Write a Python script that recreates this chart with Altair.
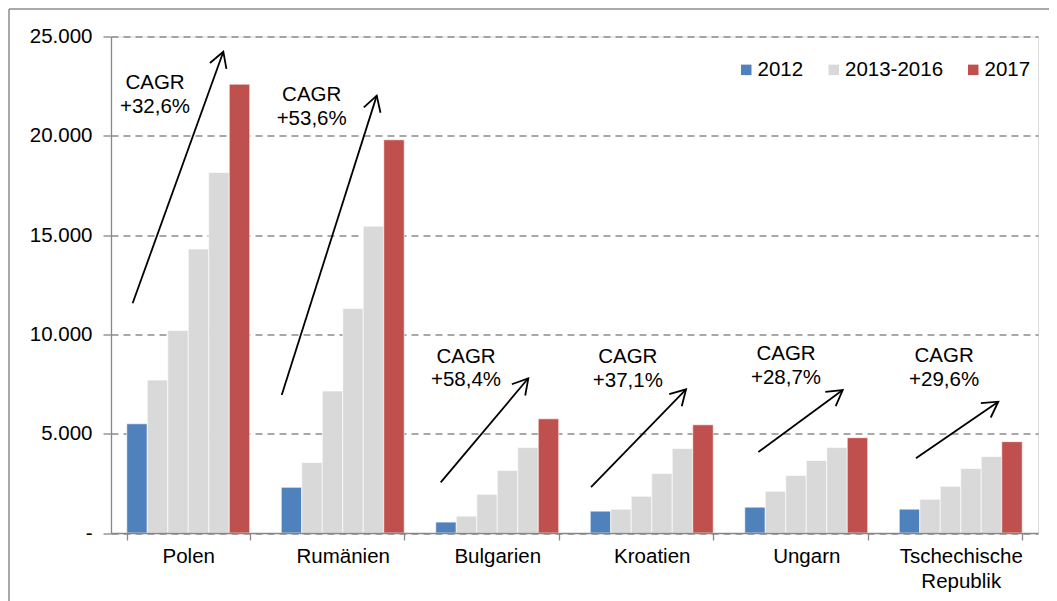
import math
import altair as alt
import pandas as pd

# ---------------- data ----------------
countries = ["Polen", "Rumänien", "Bulgarien", "Kroatien", "Ungarn", "Tschechische Republik"]
years = ["2012", "2013", "2014", "2015", "2016", "2017"]
polen = [5500, 7700, 10200, 14300, 18150, 22600]
rumaenien = [2300, 3550, 7150, 11300, 15450, 19800]
bulgarien = [550, 850, 1950, 3150, 4300, 5750]
kroatien = [1100, 1200, 1850, 3000, 4250, 5450]
ungarn = [1300, 2100, 2900, 3650, 4300, 4800]
tschechien = [1200, 1700, 2350, 3250, 3850, 4600]
series = [polen, rumaenien, bulgarien, kroatien, ungarn, tschechien]

groups = ["2012", "2013-2016", "2017"]
colors = ["#4F81BD", "#D9D9D9", "#C0504D"]

y_ticks = [0, 5000, 10000, 15000, 20000, 25000]

cagr_title = "CAGR"
cagr_rates = ["+32,6%", "+53,6%", "+58,4%", "+37,1%", "+28,7%", "+29,6%"]
# annotation anchors: x in category units (0..6), y in value units
cagr_x = [0.285, 1.299, 2.298, 3.345, 4.369, 5.392]
cagr_y_title = [22659, 22054, 8872, 8852, 9003, 8923]
cagr_y_rate = [21425, 20821, 7714, 7638, 7790, 7704]
arrow_x1 = [0.140, 1.105, 2.134, 3.107, 4.190, 5.210]
arrow_y1 = [11566, 6944, 2553, 2316, 4079, 3761]
arrow_x2 = [0.727, 1.720, 2.701, 3.722, 4.736, 5.743]
arrow_y2 = [24235, 22024, 7790, 7236, 7200, 6611]

# ---------------- layout ----------------
W = 927
H = 496.5
YMAX = 25000
FONT = "Liberation Sans"
FS = 20.5
AXIS_GRAY = "#878787"

rows = []
for c, vals in zip(countries, series):
    for yr, v in zip(years, vals):
        g = "2012" if yr == "2012" else ("2017" if yr == "2017" else "2013-2016")
        rows.append({"Land": c, "Jahr": yr, "Wert": v, "Gruppe": g})
bars_df = pd.DataFrame(rows)

ann_rows = []
for i in range(len(countries)):
    dx = (arrow_x2[i] - arrow_x1[i]) * W / 6.0
    dy = (arrow_y2[i] - arrow_y1[i]) * H / YMAX
    ang = math.degrees(math.atan2(dx, dy))
    ann_rows.append({
        "cx": cagr_x[i], "cy1": cagr_y_title[i], "cy2": cagr_y_rate[i],
        "t1": cagr_title, "t2": cagr_rates[i],
        "x1": arrow_x1[i], "y1": arrow_y1[i], "x2": arrow_x2[i], "y2": arrow_y2[i],
        "angle": ang,
    })
ann_df = pd.DataFrame(ann_rows)

yscale = alt.Scale(domain=[0, YMAX], nice=False, zero=True)
qx = alt.Scale(domain=[0, 6], nice=False, zero=False)

label_expr_y = "datum.value == 0 ? '-' : replace(format(datum.value, ','), ',', '.')"
label_expr_x = "datum.label == 'Tschechische Republik' ? ['Tschechische', 'Republik'] : datum.label"

bars = alt.Chart(bars_df).mark_bar(stroke="white", strokeWidth=0.8, strokeOpacity=0.8).encode(
    x=alt.X("Land:N", sort=countries,
            scale=alt.Scale(paddingInner=0.204, paddingOuter=0.102),
            axis=alt.Axis(title=None, labelAngle=0, tickBand="extent", labelExpr=label_expr_x,
                          labelFont=FONT, labelFontSize=FS, labelColor="#000000",
                          labelLineHeight=25, labelPadding=6,
                          domainColor=AXIS_GRAY, domainWidth=1.3,
                          tickColor=AXIS_GRAY, tickWidth=1.3, tickSize=7, grid=False,
                          zindex=1)),
    xOffset=alt.XOffset("Jahr:N", sort=years, scale=alt.Scale(paddingInner=0, paddingOuter=0)),
    y=alt.Y("Wert:Q", scale=yscale,
            axis=alt.Axis(title=None, values=y_ticks, labelExpr=label_expr_y,
                          labelFont=FONT, labelFontSize=FS, labelColor="#000000",
                          labelPadding=11, tickSize=8, tickColor=AXIS_GRAY, tickWidth=1.3,
                          domainColor=AXIS_GRAY, domainWidth=1.3,
                          grid=True, gridDash=[7, 5], gridColor="#8c8c8c", gridWidth=1.3)),
    color=alt.Color("Gruppe:N", scale=alt.Scale(domain=groups, range=colors),
                    legend=alt.Legend(title=None, orient="none", legendX=625, legendY=23,
                                      direction="horizontal", symbolType="square",
                                      symbolSize=110, symbolStrokeWidth=0, gridAlign="each",
                                      labelFont=FONT, labelFontSize=FS, labelColor="#000000",
                                      labelOffset=1, columnPadding=19.5, padding=0)),
)

shafts = alt.Chart(ann_df).mark_rule(color="black", strokeWidth=1.8).encode(
    x=alt.X("x1:Q", scale=qx, axis=None),
    x2="x2:Q",
    y=alt.Y("y1:Q", scale=yscale, title=None),
    y2="y2:Q",
)

CHEVRON = "M -0.5 0.866 L 0 0 L 0.5 0.866"
heads = alt.Chart(ann_df).mark_point(shape=CHEVRON, size=1225, filled=False, stroke="black",
                                     strokeWidth=1.8, opacity=1).encode(
    x=alt.X("x2:Q", scale=qx, axis=None),
    y=alt.Y("y2:Q", scale=yscale, title=None),
    angle=alt.Angle("angle:Q", scale=None),
)

txt1 = alt.Chart(ann_df).mark_text(font=FONT, fontSize=FS, color="black", align="center",
                                   baseline="middle").encode(
    x=alt.X("cx:Q", scale=qx, axis=None),
    y=alt.Y("cy1:Q", scale=yscale, title=None),
    text="t1:N",
)
txt2 = alt.Chart(ann_df).mark_text(font=FONT, fontSize=FS, color="black", align="center",
                                   baseline="middle").encode(
    x=alt.X("cx:Q", scale=qx, axis=None),
    y=alt.Y("cy2:Q", scale=yscale, title=None),
    text="t2:N",
)

frame_data = alt.Data(values=[{}])
frame_v = alt.Chart(frame_data).mark_rule(color="#8c8c8c", strokeWidth=1.5).encode(
    x=alt.value(-102), y=alt.value(-27.5), y2=alt.value(H + 120))
frame_h = alt.Chart(frame_data).mark_rule(color="#8c8c8c", strokeWidth=1.5).encode(
    x=alt.value(-102), x2=alt.value(W + 60), y=alt.value(-27.5))

chart = alt.layer(bars, shafts, heads, txt1, txt2, frame_v, frame_h).resolve_scale(
    x="independent"
).properties(
    width=W, height=H,
    autosize=alt.AutoSizeParams(type="none"),
    padding={"left": 103, "top": 28.5, "right": 11, "bottom": 68},
).configure_view(stroke=None).configure(background="white")

chart.save("out.html", embed_options={"renderer": "svg", "actions": False})
